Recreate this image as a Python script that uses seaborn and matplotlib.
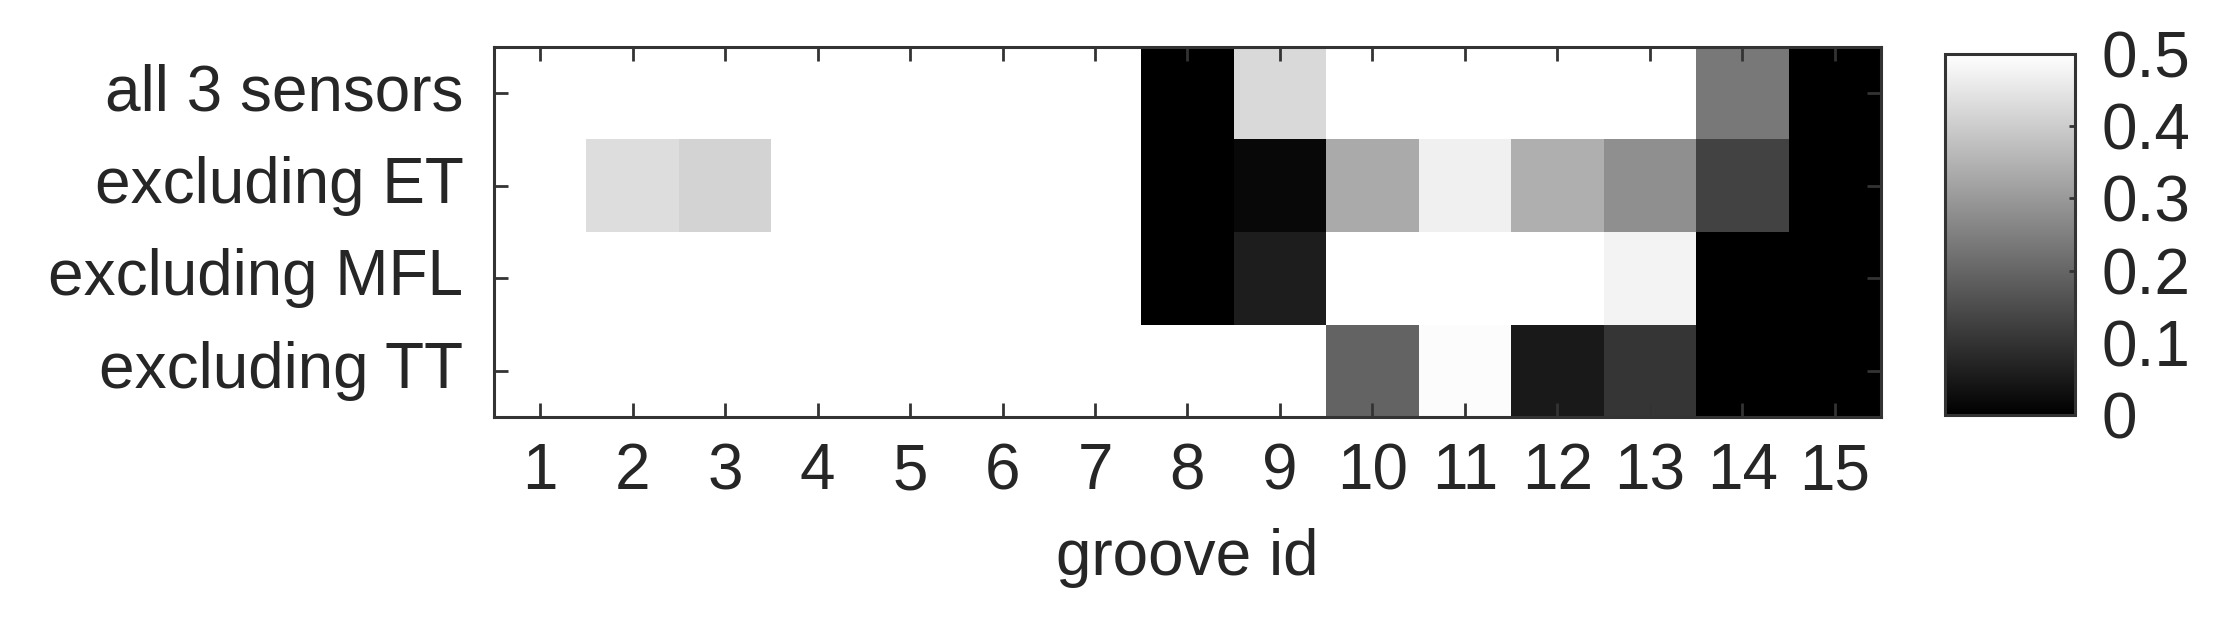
import matplotlib
matplotlib.use("Agg")
import matplotlib.pyplot as plt
import seaborn as sns
import numpy as np
import pandas as pd

sns.set_theme(style="white")
plt.rcParams['font.family'] = ['Liberation Sans', 'DejaVu Sans']

groove_ids = list(range(1, 16))
row_labels = ["all 3 sensors", "excluding ET", "excluding MFL", "excluding TT"]

all_3_sensors = [0.5, 0.5, 0.5, 0.5, 0.5, 0.5, 0.5, 0.0, 0.425, 0.5, 0.5, 0.5, 0.5, 0.235, 0.0]
excluding_ET  = [0.5, 0.433, 0.414, 0.5, 0.5, 0.5, 0.5, 0.0, 0.016, 0.333, 0.47, 0.343, 0.28, 0.13, 0.0]
excluding_MFL = [0.5, 0.5, 0.5, 0.5, 0.5, 0.5, 0.5, 0.0, 0.057, 0.5, 0.5, 0.5, 0.476, 0.0, 0.0]
excluding_TT  = [0.5, 0.5, 0.5, 0.5, 0.5, 0.5, 0.5, 0.5, 0.5, 0.194, 0.494, 0.049, 0.104, 0.0, 0.0]
cbar_ticks = [0, 0.1, 0.2, 0.3, 0.4, 0.5]

data = pd.DataFrame([all_3_sensors, excluding_ET, excluding_MFL, excluding_TT],
                    index=row_labels, columns=groove_ids)

text_col = "#262626"
frame_col = "#333333"
fs = 46

fig = plt.figure(figsize=(22.34, 6.2), dpi=100)
ax = fig.add_axes([0.2211, 0.3274, 0.6209, 0.5968])
cax = fig.add_axes([0.8706, 0.3306, 0.0582, 0.5823])

sns.heatmap(data, ax=ax, cmap="gray", vmin=0, vmax=0.5, cbar_ax=cax,
            cbar_kws={"ticks": cbar_ticks})

ax.set_axisbelow(False)
cax.set_axisbelow(False)
ax.set_xlabel("groove id", fontsize=fs, color=text_col, labelpad=19)
ax.set_ylabel("")
ax.set_xticklabels([str(g) for g in groove_ids], rotation=0)
ax.set_yticklabels(row_labels, rotation=0)
ax.tick_params(axis="both", which="both", direction="in", length=10, width=2.0,
               color=frame_col, labelsize=fs, labelcolor=text_col,
               top=True, right=True, bottom=True, left=True)
ax.tick_params(axis="x", pad=18)
ax.tick_params(axis="y", pad=22)
for s in ax.spines.values():
    s.set_visible(True)
    s.set_color(frame_col)
    s.set_linewidth(2.2)

cb = ax.collections[0].colorbar
cb.outline.set_visible(True)
cb.outline.set_linewidth(2.2)
cb.outline.set_edgecolor(frame_col)
cax.tick_params(direction="in", length=4, width=2.0, color=frame_col,
                labelsize=fs, labelcolor=text_col, pad=19, right=True, left=False)
cax.set_yticklabels([f"{t:g}" for t in cbar_ticks])

fig.savefig("out.png", dpi=100, facecolor="white")
